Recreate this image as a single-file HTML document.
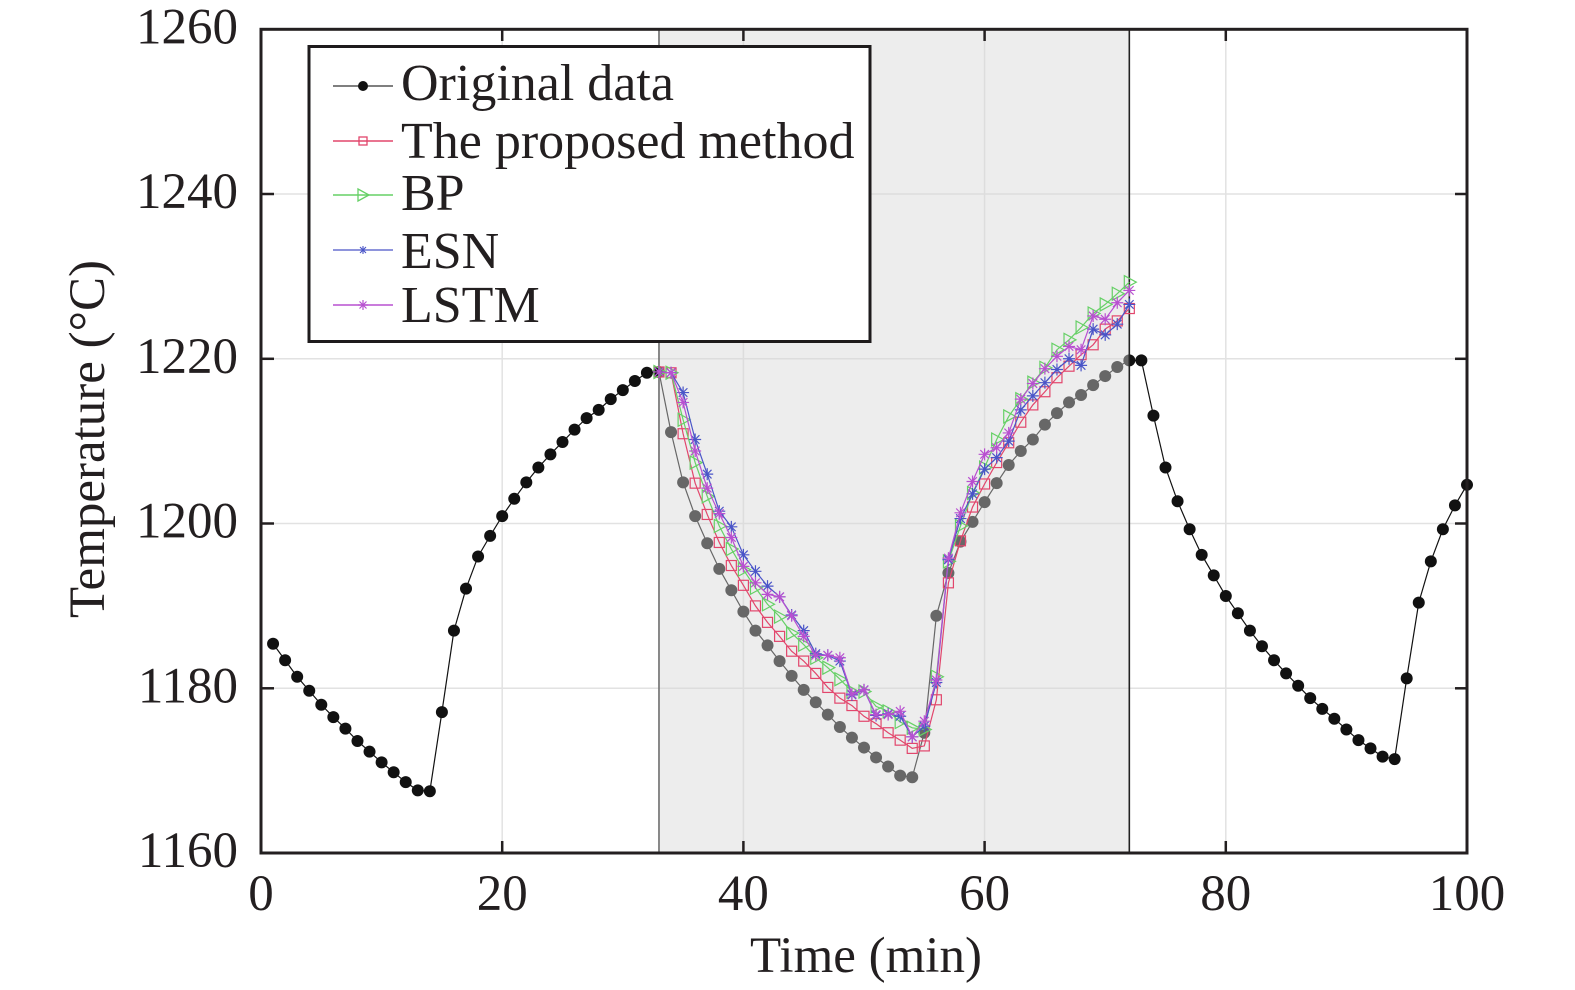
<!DOCTYPE html>
<html><head><meta charset="utf-8"><style>
html,body{margin:0;padding:0;background:#fff;}
svg{display:block;}
text{font-family:"Liberation Serif","Times New Roman",serif;fill:#231f20;}
</style></head><body>
<svg width="1575" height="990" viewBox="0 0 1575 990" xmlns="http://www.w3.org/2000/svg">
<defs>
<g id="d" transform="scale(0.082919,0.121403)"><circle r="6"/></g>
<g id="s" transform="scale(0.082919,0.121403)"><rect x="-5" y="-5" width="10" height="10" fill="none"/></g>
<g id="t" transform="scale(0.082919,0.121403)"><polygon points="-5,-6.5 7,0 -5,6.5" fill="none"/></g>
<g id="a" transform="scale(0.082919,0.121403)"><path d="M-6,0H6M0,-6V6M-4.3,-4.3L4.3,4.3M-4.3,4.3L4.3,-4.3" fill="none"/></g>
</defs>
<rect x="0" y="0" width="1575" height="990" fill="#fff"/>
<!-- grid -->
<g stroke="#e2e2e2" stroke-width="1.5">
<line x1="502.2" y1="29" x2="502.2" y2="853"/>
<line x1="743.4" y1="29" x2="743.4" y2="853"/>
<line x1="984.6" y1="29" x2="984.6" y2="853"/>
<line x1="1225.8" y1="29" x2="1225.8" y2="853"/>
<line x1="261" y1="688.3" x2="1467" y2="688.3"/>
<line x1="261" y1="523.5" x2="1467" y2="523.5"/>
<line x1="261" y1="358.8" x2="1467" y2="358.8"/>
<line x1="261" y1="194" x2="1467" y2="194"/>
</g>
<g transform="translate(261,853) scale(12.06,-8.237) translate(0,-1160)">
<!-- original data -->
<polyline fill="none" stroke="#111" stroke-width="1.2" vector-effect="non-scaling-stroke" points="1,1185.4 2,1183.4 3,1181.4 4,1179.7 5,1178.0 6,1176.5 7,1175.1 8,1173.6 9,1172.3 10,1171.0 11,1169.8 12,1168.6 13,1167.6 14,1167.5 15,1177.1 16,1187.0 17,1192.1 18,1196.0 19,1198.5 20,1200.9 21,1203.0 22,1205.0 23,1206.8 24,1208.4 25,1209.9 26,1211.4 27,1212.8 28,1213.8 29,1215.1 30,1216.2 31,1217.3 32,1218.3 33,1218.4 34,1211.1 35,1205.0 36,1200.9 37,1197.6 38,1194.5 39,1191.9 40,1189.3 41,1187.0 42,1185.2 43,1183.3 44,1181.5 45,1179.8 46,1178.3 47,1176.8 48,1175.3 49,1174.0 50,1172.8 51,1171.6 52,1170.5 53,1169.4 54,1169.2 55,1174.6 56,1188.8 57,1194.0 58,1197.8 59,1200.2 60,1202.6 61,1204.9 62,1207.1 63,1208.8 64,1210.2 65,1212.0 66,1213.4 67,1214.7 68,1215.6 69,1216.8 70,1217.9 71,1219.0 72,1219.8 73,1219.8 74,1213.1 75,1206.8 76,1202.7 77,1199.3 78,1196.2 79,1193.7 80,1191.2 81,1189.1 82,1187.0 83,1185.1 84,1183.4 85,1181.8 86,1180.3 87,1178.8 88,1177.5 89,1176.3 90,1175.0 91,1173.7 92,1172.7 93,1171.7 94,1171.4 95,1181.2 96,1190.4 97,1195.4 98,1199.3 99,1202.2 100,1204.7"/>
<g fill="#111">
<use href="#d" x="1" y="1185.4"/><use href="#d" x="2" y="1183.4"/><use href="#d" x="3" y="1181.4"/><use href="#d" x="4" y="1179.7"/><use href="#d" x="5" y="1178.0"/><use href="#d" x="6" y="1176.5"/><use href="#d" x="7" y="1175.1"/><use href="#d" x="8" y="1173.6"/><use href="#d" x="9" y="1172.3"/><use href="#d" x="10" y="1171.0"/>
<use href="#d" x="11" y="1169.8"/><use href="#d" x="12" y="1168.6"/><use href="#d" x="13" y="1167.6"/><use href="#d" x="14" y="1167.5"/><use href="#d" x="15" y="1177.1"/><use href="#d" x="16" y="1187.0"/><use href="#d" x="17" y="1192.1"/><use href="#d" x="18" y="1196.0"/><use href="#d" x="19" y="1198.5"/><use href="#d" x="20" y="1200.9"/>
<use href="#d" x="21" y="1203.0"/><use href="#d" x="22" y="1205.0"/><use href="#d" x="23" y="1206.8"/><use href="#d" x="24" y="1208.4"/><use href="#d" x="25" y="1209.9"/><use href="#d" x="26" y="1211.4"/><use href="#d" x="27" y="1212.8"/><use href="#d" x="28" y="1213.8"/><use href="#d" x="29" y="1215.1"/><use href="#d" x="30" y="1216.2"/>
<use href="#d" x="31" y="1217.3"/><use href="#d" x="32" y="1218.3"/><use href="#d" x="33" y="1218.4"/><use href="#d" x="34" y="1211.1"/><use href="#d" x="35" y="1205.0"/><use href="#d" x="36" y="1200.9"/><use href="#d" x="37" y="1197.6"/><use href="#d" x="38" y="1194.5"/><use href="#d" x="39" y="1191.9"/><use href="#d" x="40" y="1189.3"/>
<use href="#d" x="41" y="1187.0"/><use href="#d" x="42" y="1185.2"/><use href="#d" x="43" y="1183.3"/><use href="#d" x="44" y="1181.5"/><use href="#d" x="45" y="1179.8"/><use href="#d" x="46" y="1178.3"/><use href="#d" x="47" y="1176.8"/><use href="#d" x="48" y="1175.3"/><use href="#d" x="49" y="1174.0"/><use href="#d" x="50" y="1172.8"/>
<use href="#d" x="51" y="1171.6"/><use href="#d" x="52" y="1170.5"/><use href="#d" x="53" y="1169.4"/><use href="#d" x="54" y="1169.2"/><use href="#d" x="55" y="1174.6"/><use href="#d" x="56" y="1188.8"/><use href="#d" x="57" y="1194.0"/><use href="#d" x="58" y="1197.8"/><use href="#d" x="59" y="1200.2"/><use href="#d" x="60" y="1202.6"/>
<use href="#d" x="61" y="1204.9"/><use href="#d" x="62" y="1207.1"/><use href="#d" x="63" y="1208.8"/><use href="#d" x="64" y="1210.2"/><use href="#d" x="65" y="1212.0"/><use href="#d" x="66" y="1213.4"/><use href="#d" x="67" y="1214.7"/><use href="#d" x="68" y="1215.6"/><use href="#d" x="69" y="1216.8"/><use href="#d" x="70" y="1217.9"/>
<use href="#d" x="71" y="1219.0"/><use href="#d" x="72" y="1219.8"/><use href="#d" x="73" y="1219.8"/><use href="#d" x="74" y="1213.1"/><use href="#d" x="75" y="1206.8"/><use href="#d" x="76" y="1202.7"/><use href="#d" x="77" y="1199.3"/><use href="#d" x="78" y="1196.2"/><use href="#d" x="79" y="1193.7"/><use href="#d" x="80" y="1191.2"/>
<use href="#d" x="81" y="1189.1"/><use href="#d" x="82" y="1187.0"/><use href="#d" x="83" y="1185.1"/><use href="#d" x="84" y="1183.4"/><use href="#d" x="85" y="1181.8"/><use href="#d" x="86" y="1180.3"/><use href="#d" x="87" y="1178.8"/><use href="#d" x="88" y="1177.5"/><use href="#d" x="89" y="1176.3"/><use href="#d" x="90" y="1175.0"/>
<use href="#d" x="91" y="1173.7"/><use href="#d" x="92" y="1172.7"/><use href="#d" x="93" y="1171.7"/><use href="#d" x="94" y="1171.4"/><use href="#d" x="95" y="1181.2"/><use href="#d" x="96" y="1190.4"/><use href="#d" x="97" y="1195.4"/><use href="#d" x="98" y="1199.3"/><use href="#d" x="99" y="1202.2"/><use href="#d" x="100" y="1204.7"/>
</g>
<!-- shaded region -->
<rect x="33" y="1160" width="39" height="100" fill="#d5d5d5" fill-opacity="0.44"/>
<line x1="33" y1="1160" x2="33" y2="1260" stroke="#6e6e6e" stroke-width="1.6" vector-effect="non-scaling-stroke"/>
<line x1="72" y1="1160" x2="72" y2="1260" stroke="#222" stroke-width="1.6" vector-effect="non-scaling-stroke"/>
<!-- proposed -->
<polyline fill="none" stroke="#e2466c" stroke-width="1.2" vector-effect="non-scaling-stroke" points="33,1218.4 34,1218.3 35,1210.9 36,1204.9 37,1201.1 38,1197.7 39,1194.9 40,1192.5 41,1190.0 42,1188.0 43,1186.3 44,1184.5 45,1183.3 46,1181.8 47,1180.1 48,1178.8 49,1177.9 50,1176.6 51,1175.7 52,1174.6 53,1173.7 54,1172.7 55,1173.0 56,1178.6 57,1192.8 58,1197.9 59,1202.0 60,1204.8 61,1207.4 62,1209.8 63,1212.3 64,1214.4 65,1216.0 66,1217.7 67,1219.1 68,1220.5 69,1221.7 70,1223.6 71,1224.6 72,1226.1"/>
<g stroke="#e2466c" stroke-width="1.2">
<use href="#s" x="33" y="1218.4"/><use href="#s" x="34" y="1218.3"/><use href="#s" x="35" y="1210.9"/><use href="#s" x="36" y="1204.9"/><use href="#s" x="37" y="1201.1"/><use href="#s" x="38" y="1197.7"/><use href="#s" x="39" y="1194.9"/><use href="#s" x="40" y="1192.5"/><use href="#s" x="41" y="1190.0"/><use href="#s" x="42" y="1188.0"/>
<use href="#s" x="43" y="1186.3"/><use href="#s" x="44" y="1184.5"/><use href="#s" x="45" y="1183.3"/><use href="#s" x="46" y="1181.8"/><use href="#s" x="47" y="1180.1"/><use href="#s" x="48" y="1178.8"/><use href="#s" x="49" y="1177.9"/><use href="#s" x="50" y="1176.6"/><use href="#s" x="51" y="1175.7"/><use href="#s" x="52" y="1174.6"/>
<use href="#s" x="53" y="1173.7"/><use href="#s" x="54" y="1172.7"/><use href="#s" x="55" y="1173.0"/><use href="#s" x="56" y="1178.6"/><use href="#s" x="57" y="1192.8"/><use href="#s" x="58" y="1197.9"/><use href="#s" x="59" y="1202.0"/><use href="#s" x="60" y="1204.8"/><use href="#s" x="61" y="1207.4"/><use href="#s" x="62" y="1209.8"/>
<use href="#s" x="63" y="1212.3"/><use href="#s" x="64" y="1214.4"/><use href="#s" x="65" y="1216.0"/><use href="#s" x="66" y="1217.7"/><use href="#s" x="67" y="1219.1"/><use href="#s" x="68" y="1220.5"/><use href="#s" x="69" y="1221.7"/><use href="#s" x="70" y="1223.6"/><use href="#s" x="71" y="1224.6"/><use href="#s" x="72" y="1226.1"/>
</g>
<!-- BP -->
<polyline fill="none" stroke="#66d066" stroke-width="1.2" vector-effect="non-scaling-stroke" points="33,1218.4 34,1218.3 35,1212.6 36,1207.4 37,1203.3 38,1199.7 39,1196.9 40,1194.4 41,1192.2 42,1190.2 43,1188.7 44,1186.7 45,1185.3 46,1183.7 47,1182.5 48,1181.1 49,1179.6 50,1179.6 51,1177.8 52,1177.2 53,1175.9 54,1175.2 55,1175.0 56,1181.4 57,1195.4 58,1199.7 59,1203.7 60,1206.8 61,1210.2 62,1213.0 63,1215.1 64,1217.1 65,1218.9 66,1221.1 67,1222.3 68,1223.8 69,1225.5 70,1226.6 71,1227.9 72,1229.3"/>
<g stroke="#66d066" stroke-width="1.2">
<use href="#t" x="33" y="1218.4"/><use href="#t" x="34" y="1218.3"/><use href="#t" x="35" y="1212.6"/><use href="#t" x="36" y="1207.4"/><use href="#t" x="37" y="1203.3"/><use href="#t" x="38" y="1199.7"/><use href="#t" x="39" y="1196.9"/><use href="#t" x="40" y="1194.4"/><use href="#t" x="41" y="1192.2"/><use href="#t" x="42" y="1190.2"/>
<use href="#t" x="43" y="1188.7"/><use href="#t" x="44" y="1186.7"/><use href="#t" x="45" y="1185.3"/><use href="#t" x="46" y="1183.7"/><use href="#t" x="47" y="1182.5"/><use href="#t" x="48" y="1181.1"/><use href="#t" x="49" y="1179.6"/><use href="#t" x="50" y="1179.6"/><use href="#t" x="51" y="1177.8"/><use href="#t" x="52" y="1177.2"/>
<use href="#t" x="53" y="1175.9"/><use href="#t" x="54" y="1175.2"/><use href="#t" x="55" y="1175.0"/><use href="#t" x="56" y="1181.4"/><use href="#t" x="57" y="1195.4"/><use href="#t" x="58" y="1199.7"/><use href="#t" x="59" y="1203.7"/><use href="#t" x="60" y="1206.8"/><use href="#t" x="61" y="1210.2"/><use href="#t" x="62" y="1213.0"/>
<use href="#t" x="63" y="1215.1"/><use href="#t" x="64" y="1217.1"/><use href="#t" x="65" y="1218.9"/><use href="#t" x="66" y="1221.1"/><use href="#t" x="67" y="1222.3"/><use href="#t" x="68" y="1223.8"/><use href="#t" x="69" y="1225.5"/><use href="#t" x="70" y="1226.6"/><use href="#t" x="71" y="1227.9"/><use href="#t" x="72" y="1229.3"/>
</g>
<!-- ESN -->
<polyline fill="none" stroke="#4a55c8" stroke-width="1.2" vector-effect="non-scaling-stroke" points="33,1218.4 34,1218.3 35,1215.9 36,1210.2 37,1206.0 38,1201.5 39,1199.6 40,1196.2 41,1194.2 42,1192.4 43,1191.1 44,1188.9 45,1187.0 46,1184.2 47,1184.0 48,1183.3 49,1179.2 50,1179.8 51,1176.7 52,1176.9 53,1176.6 54,1174.1 55,1175.4 56,1180.7 57,1195.6 58,1200.6 59,1203.6 60,1206.6 61,1208.0 62,1210.0 63,1213.8 64,1215.5 65,1217.1 66,1218.7 67,1220.0 68,1219.2 69,1223.6 70,1222.9 71,1224.2 72,1226.6"/>
<g stroke="#4a55c8" stroke-width="1.2">
<use href="#a" x="33" y="1218.4"/><use href="#a" x="34" y="1218.3"/><use href="#a" x="35" y="1215.9"/><use href="#a" x="36" y="1210.2"/><use href="#a" x="37" y="1206.0"/><use href="#a" x="38" y="1201.5"/><use href="#a" x="39" y="1199.6"/><use href="#a" x="40" y="1196.2"/><use href="#a" x="41" y="1194.2"/><use href="#a" x="42" y="1192.4"/>
<use href="#a" x="43" y="1191.1"/><use href="#a" x="44" y="1188.9"/><use href="#a" x="45" y="1187.0"/><use href="#a" x="46" y="1184.2"/><use href="#a" x="47" y="1184.0"/><use href="#a" x="48" y="1183.3"/><use href="#a" x="49" y="1179.2"/><use href="#a" x="50" y="1179.8"/><use href="#a" x="51" y="1176.7"/><use href="#a" x="52" y="1176.9"/>
<use href="#a" x="53" y="1176.6"/><use href="#a" x="54" y="1174.1"/><use href="#a" x="55" y="1175.4"/><use href="#a" x="56" y="1180.7"/><use href="#a" x="57" y="1195.6"/><use href="#a" x="58" y="1200.6"/><use href="#a" x="59" y="1203.6"/><use href="#a" x="60" y="1206.6"/><use href="#a" x="61" y="1208.0"/><use href="#a" x="62" y="1210.0"/>
<use href="#a" x="63" y="1213.8"/><use href="#a" x="64" y="1215.5"/><use href="#a" x="65" y="1217.1"/><use href="#a" x="66" y="1218.7"/><use href="#a" x="67" y="1220.0"/><use href="#a" x="68" y="1219.2"/><use href="#a" x="69" y="1223.6"/><use href="#a" x="70" y="1222.9"/><use href="#a" x="71" y="1224.2"/><use href="#a" x="72" y="1226.6"/>
</g>
<!-- LSTM -->
<polyline fill="none" stroke="#b850d0" stroke-width="1.2" vector-effect="non-scaling-stroke" points="33,1218.4 34,1218.3 35,1214.7 36,1208.8 37,1204.3 38,1201.2 39,1198.3 40,1194.8 41,1192.8 42,1191.4 43,1191.1 44,1188.8 45,1186.3 46,1184.0 47,1184.0 48,1183.7 49,1179.3 50,1179.8 51,1176.8 52,1176.8 53,1177.2 54,1174.1 55,1176.0 56,1181.0 57,1195.8 58,1201.3 59,1205.1 60,1208.4 61,1209.2 62,1211.0 63,1215.1 64,1217.0 65,1218.8 66,1220.3 67,1221.5 68,1221.1 69,1225.2 70,1224.8 71,1226.8 72,1228.3"/>
<g stroke="#b850d0" stroke-width="1.2">
<use href="#a" x="33" y="1218.4"/><use href="#a" x="34" y="1218.3"/><use href="#a" x="35" y="1214.7"/><use href="#a" x="36" y="1208.8"/><use href="#a" x="37" y="1204.3"/><use href="#a" x="38" y="1201.2"/><use href="#a" x="39" y="1198.3"/><use href="#a" x="40" y="1194.8"/><use href="#a" x="41" y="1192.8"/><use href="#a" x="42" y="1191.4"/>
<use href="#a" x="43" y="1191.1"/><use href="#a" x="44" y="1188.8"/><use href="#a" x="45" y="1186.3"/><use href="#a" x="46" y="1184.0"/><use href="#a" x="47" y="1184.0"/><use href="#a" x="48" y="1183.7"/><use href="#a" x="49" y="1179.3"/><use href="#a" x="50" y="1179.8"/><use href="#a" x="51" y="1176.8"/><use href="#a" x="52" y="1176.8"/>
<use href="#a" x="53" y="1177.2"/><use href="#a" x="54" y="1174.1"/><use href="#a" x="55" y="1176.0"/><use href="#a" x="56" y="1181.0"/><use href="#a" x="57" y="1195.8"/><use href="#a" x="58" y="1201.3"/><use href="#a" x="59" y="1205.1"/><use href="#a" x="60" y="1208.4"/><use href="#a" x="61" y="1209.2"/><use href="#a" x="62" y="1211.0"/>
<use href="#a" x="63" y="1215.1"/><use href="#a" x="64" y="1217.0"/><use href="#a" x="65" y="1218.8"/><use href="#a" x="66" y="1220.3"/><use href="#a" x="67" y="1221.5"/><use href="#a" x="68" y="1221.1"/><use href="#a" x="69" y="1225.2"/><use href="#a" x="70" y="1224.8"/><use href="#a" x="71" y="1226.8"/><use href="#a" x="72" y="1228.3"/>
</g>
</g>
<!-- ticks -->
<g stroke="#231f20" stroke-width="2.5">
<line x1="502.2" y1="853" x2="502.2" y2="841"/><line x1="743.4" y1="853" x2="743.4" y2="841"/><line x1="984.6" y1="853" x2="984.6" y2="841"/><line x1="1225.8" y1="853" x2="1225.8" y2="841"/>
<line x1="502.2" y1="29.3" x2="502.2" y2="41"/><line x1="743.4" y1="29.3" x2="743.4" y2="41"/><line x1="984.6" y1="29.3" x2="984.6" y2="41"/><line x1="1225.8" y1="29.3" x2="1225.8" y2="41"/>
<line x1="261" y1="688.3" x2="274" y2="688.3"/><line x1="261" y1="523.5" x2="274" y2="523.5"/><line x1="261" y1="358.8" x2="274" y2="358.8"/><line x1="261" y1="194" x2="274" y2="194"/>
<line x1="1467" y1="688.3" x2="1455" y2="688.3"/><line x1="1467" y1="523.5" x2="1455" y2="523.5"/><line x1="1467" y1="358.8" x2="1455" y2="358.8"/><line x1="1467" y1="194" x2="1455" y2="194"/>
</g>
<!-- axes box -->
<rect x="261" y="29.3" width="1206" height="823.7" fill="none" stroke="#231f20" stroke-width="3"/>
<!-- legend -->
<rect x="309" y="46.5" width="561" height="295" fill="#fff" stroke="#1e1b1c" stroke-width="3"/>
<line x1="333" y1="86" x2="393" y2="86" stroke="#333" stroke-width="1.3"/>
<circle cx="363" cy="86" r="5" fill="#111"/>
<line x1="333" y1="141" x2="393" y2="141" stroke="#e2466c" stroke-width="1.5"/>
<rect x="359" y="137" width="8" height="8" fill="none" stroke="#e2466c" stroke-width="1.3"/>
<line x1="333" y1="195" x2="393" y2="195" stroke="#66d066" stroke-width="1.5"/>
<polygon points="358,189 369,195 358,201" fill="none" stroke="#66d066" stroke-width="1.3"/>
<line x1="333" y1="250" x2="393" y2="250" stroke="#4a55c8" stroke-width="1.2"/>
<path d="M359,250H367M363,246V254M360,247L366,253M360,253L366,247" stroke="#4a55c8" stroke-width="1.1" fill="none"/>
<line x1="333" y1="305" x2="393" y2="305" stroke="#b850d0" stroke-width="1.5"/>
<path d="M358,305H368M363,300V310M359.5,301.5L366.5,308.5M359.5,308.5L366.5,301.5" stroke="#b850d0" stroke-width="1.2" fill="none"/>
<g font-size="52">
<text x="401" y="100">Original data</text>
<text x="401" y="158">The proposed method</text>
<text x="401" y="210">BP</text>
<text x="401" y="268">ESN</text>
<text x="401" y="322">LSTM</text>
</g>
<!-- tick labels -->
<g font-size="51" text-anchor="middle">
<text x="261" y="910">0</text>
<text x="502.2" y="910">20</text>
<text x="743.4" y="910">40</text>
<text x="984.6" y="910">60</text>
<text x="1225.8" y="910">80</text>
<text x="1467" y="910">100</text>
</g>
<g font-size="51" text-anchor="end">
<text x="238" y="867">1160</text>
<text x="238" y="702.3">1180</text>
<text x="238" y="537.5">1200</text>
<text x="238" y="372.8">1220</text>
<text x="238" y="208">1240</text>
<text x="238" y="43.3">1260</text>
</g>
<text x="866" y="972" font-size="51" text-anchor="middle">Time (min)</text>
<text transform="translate(104,439) rotate(-90)" font-size="51" text-anchor="middle">Temperature (°C)</text>
</svg>
</body></html>
